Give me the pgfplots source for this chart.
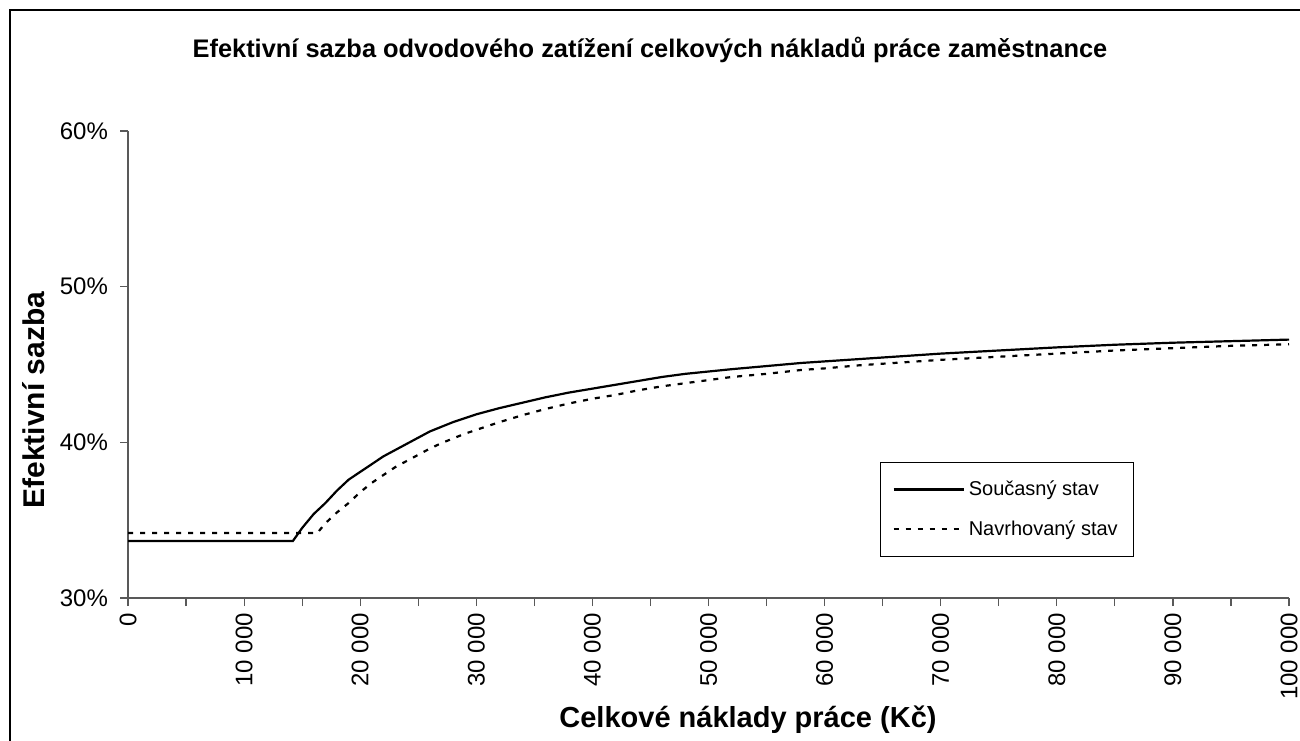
\documentclass[border=0pt]{standalone}
\usepackage{pgfplots}
\pgfplotsset{compat=1.18}
\usepackage{pgfplotstable}
\usepackage{fontspec}
\setmainfont{Liberation Sans}

\pgfplotstableread{
x y
0 33.66
14200 33.66
15000 34.5
16000 35.4
17000 36.1
18000 36.9
19000 37.6
20000 38.1
21000 38.6
22000 39.1
23000 39.5
24000 39.9
25000 40.3
26000 40.7
27000 41.0
28000 41.3
29000 41.55
30000 41.8
32000 42.2
34000 42.55
36000 42.9
38000 43.2
40000 43.45
42000 43.7
44000 43.95
46000 44.2
48000 44.4
50000 44.55
52000 44.7
55000 44.9
58000 45.1
60000 45.2
63000 45.35
66000 45.5
70000 45.7
75000 45.9
80000 46.1
85000 46.27
90000 46.4
95000 46.5
100000 46.6
}\soucasny

\pgfplotstableread{
x y
0 34.17
16300 34.17
17000 34.8
18000 35.5
19000 36.1
20000 36.8
21000 37.4
22000 37.9
23000 38.4
24000 38.8
25000 39.2
26000 39.6
27000 39.95
28000 40.25
29000 40.55
30000 40.8
32000 41.3
34000 41.75
36000 42.15
38000 42.5
40000 42.8
42000 43.05
44000 43.35
46000 43.6
48000 43.8
50000 44.0
52000 44.2
55000 44.4
58000 44.65
60000 44.75
63000 44.95
66000 45.1
70000 45.3
75000 45.5
80000 45.7
85000 45.9
90000 46.05
95000 46.2
100000 46.3
}\navrhovany

\begin{document}
\begin{tikzpicture}
\useasboundingbox (-64pt,-71pt) rectangle (586pt,299pt);
\draw[line width=0.8pt] (-59pt,-80pt) -- (-59pt,294pt) -- (600pt,294pt);
\begin{axis}[
  at={(0pt,0pt)}, anchor=south west,
  scale only axis,
  width=580.5pt, height=233.5pt,
  xmin=0, xmax=100000, ymin=30, ymax=60,
  axis lines*=left,
  axis line style={black!65, line width=0.6pt},
  every tick/.style={black!65, line width=0.6pt},
  tick align=outside,
  major tick length=4pt, minor tick length=4pt,
  xtick={0,10000,...,100000},
  minor xtick={5000,15000,...,95000},
  xticklabels={0,10 000,20 000,30 000,40 000,50 000,60 000,70 000,80 000,90 000,100 000},
  xticklabel style={rotate=90, anchor=east, font=\fontsize{12}{14}\selectfont},
  ytick={30,40,50,60},
  yticklabels={30\%,40\%,50\%,60\%},
  yticklabel style={font=\fontsize{12}{14}\selectfont, xshift=-2.5pt},
  scaled x ticks=false,
  legend style={at={(rel axis cs:0.6477,0.291)}, anchor=north west,
    draw=black, line width=0.6pt, font=\fontsize{10}{12}\selectfont,
    inner xsep=6pt, inner ysep=7pt, row sep=7pt},
  legend cell align=left,
  legend image code/.code={\draw[#1] (0pt,0pt) -- (35pt,0pt);},
  clip=false,
]
\addplot[black, line width=1.1pt] table[x=x,y=y] {\soucasny};
\addlegendentry{Současný stav}
\addplot[black, line width=1.1pt, dash pattern=on 2.5pt off 3.5pt] table[x=x,y=y] {\navrhovany};
\addlegendentry{Navrhovaný stav}
\end{axis}
\node[font=\fontsize{12.7}{15}\bfseries\selectfont] at (261pt,274pt) {Efektivní sazba odvodového zatížení celkových nákladů práce zaměstnance};
\node[font=\fontsize{15}{18}\bfseries\selectfont, rotate=90] at (-47pt,99pt) {Efektivní sazba};
\node[font=\fontsize{14.5}{17}\bfseries\selectfont] at (310pt,-61pt) {Celkové náklady práce (Kč)};
\end{tikzpicture}
\end{document}
